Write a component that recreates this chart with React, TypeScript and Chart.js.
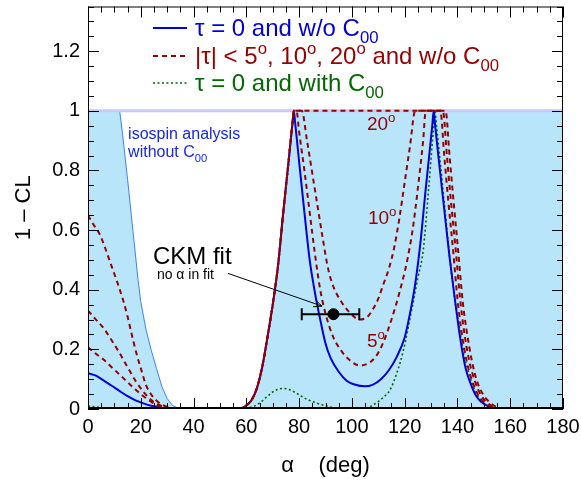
import { useEffect, useRef } from 'react';
import { Chart, registerables } from 'chart.js';

Chart.register(...registerables);

const FONT = '"Liberation Sans", Arial, Helvetica, sans-serif';

// ---------- data (alpha in degrees, 1 - CL) ----------
const envX = [0, 12, 13, 15, 17, 19, 20, 22, 24, 26, 28, 30, 32, 34, 36, 56, 58, 60, 62, 64, 66, 68, 70, 72, 74, 76, 77.5, 78, 180];
const envY = [1, 1, 0.93, 0.77, 0.6, 0.43, 0.36, 0.265, 0.196, 0.135, 0.075, 0.035, 0.012, 0.003, 0, 0, 0.003, 0.012, 0.03, 0.07, 0.14, 0.24, 0.35, 0.48, 0.66, 0.83, 0.96, 1, 1];

const blueX = [0, 3, 6, 9, 12, 15, 18, 21, 24, 27, 30, 33, 36, 45, 56, 58, 60, 62, 64, 66, 68, 70, 72, 74, 76, 77.5, 78, 78.5, 80, 82, 84, 86, 88, 90, 92, 95, 98, 101, 105, 108, 111, 114, 117, 120, 122, 124, 126, 128, 130, 130.5, 131, 131.5, 133, 135, 137, 139, 141, 143, 145, 147, 149, 151, 153, 155, 158, 170, 180];
const blueY = [0.12, 0.112, 0.095, 0.078, 0.06, 0.043, 0.029, 0.019, 0.011, 0.006, 0.002, 0.0005, 0, 0, 0, 0.003, 0.012, 0.03, 0.07, 0.14, 0.24, 0.35, 0.48, 0.66, 0.83, 0.96, 1, 0.96, 0.83, 0.66, 0.5, 0.39, 0.3, 0.22, 0.17, 0.125, 0.095, 0.082, 0.076, 0.082, 0.1, 0.13, 0.175, 0.24, 0.32, 0.42, 0.56, 0.74, 0.91, 0.955, 1, 0.955, 0.83, 0.67, 0.51, 0.37, 0.24, 0.14, 0.085, 0.045, 0.024, 0.012, 0.005, 0.0015, 0, 0, 0];

const red5X = [0, 3, 6, 9, 12, 15, 18, 21, 24, 27, 30, 33, 36, 45, 56, 58, 60, 62, 64, 66, 68, 70, 72, 74, 76, 77.5, 78, 79, 80, 82, 84, 86, 88, 90, 93, 96, 99, 103, 106, 109, 112, 115, 118, 121, 123, 125, 127, 128, 133.5, 135, 136.5, 138.4, 140, 141.5, 143.5, 145.5, 148, 150.5, 153, 155, 158, 170, 180];
const red5Y = [0.207, 0.185, 0.165, 0.14, 0.115, 0.09, 0.065, 0.043, 0.024, 0.01, 0.003, 0.0005, 0, 0, 0, 0.003, 0.012, 0.03, 0.07, 0.14, 0.24, 0.35, 0.48, 0.66, 0.83, 0.96, 1, 1, 0.93, 0.8, 0.66, 0.52, 0.4, 0.32, 0.24, 0.195, 0.165, 0.146, 0.152, 0.175, 0.225, 0.3, 0.39, 0.5, 0.6, 0.74, 0.9, 1, 1, 0.85, 0.7, 0.528, 0.37, 0.262, 0.16, 0.096, 0.045, 0.02, 0.005, 0.001, 0, 0, 0];

const red10X = [0, 3, 6, 9, 12, 15, 18, 21, 24, 27, 30, 33, 36, 45, 56, 58, 60, 62, 64, 66, 68, 70, 72, 74, 76, 77.5, 78, 81, 83, 85, 87, 89, 91, 93, 96, 99, 103, 106, 108, 110, 112, 114, 116, 118, 120, 122, 124, 134.5, 136, 137.5, 139.4, 141, 142.5, 144.5, 146.5, 149, 151.5, 154, 156, 159, 170, 180];
const red10Y = [0.33, 0.3, 0.27, 0.23, 0.187, 0.14, 0.095, 0.058, 0.03, 0.014, 0.005, 0.001, 0, 0, 0, 0.003, 0.012, 0.03, 0.07, 0.14, 0.24, 0.35, 0.48, 0.66, 0.83, 0.96, 1, 1, 0.9, 0.79, 0.68, 0.57, 0.47, 0.41, 0.36, 0.325, 0.3, 0.31, 0.335, 0.37, 0.42, 0.47, 0.54, 0.64, 0.76, 0.88, 1, 1, 0.85, 0.7, 0.528, 0.37, 0.262, 0.16, 0.096, 0.045, 0.02, 0.005, 0.001, 0, 0, 0];

const red20X = [0, 2, 4.5, 6.5, 8.3, 10.9, 13.4, 15, 16.5, 18.4, 20, 22, 24, 26, 28, 30, 32, 35, 45, 56, 58, 60, 62, 64, 66, 68, 70, 72, 74, 76, 77.5, 78, 135.5, 137, 138.5, 140.3, 142, 143.5, 145.5, 147.3, 150, 152.3, 154.9, 157, 160, 170, 180];
const red20Y = [0.65, 0.62, 0.585, 0.54, 0.495, 0.43, 0.362, 0.31, 0.253, 0.185, 0.137, 0.08, 0.048, 0.028, 0.015, 0.007, 0.002, 0, 0, 0, 0.003, 0.012, 0.03, 0.07, 0.14, 0.24, 0.35, 0.48, 0.66, 0.83, 0.96, 1, 1, 0.85, 0.7, 0.528, 0.36, 0.262, 0.16, 0.096, 0.045, 0.022, 0.006, 0.001, 0, 0, 0];

const greenX = [0, 3, 6, 9, 12, 15, 45, 56, 58, 60, 62.6, 65, 67.7, 70, 72, 74, 76, 78, 80.3, 82, 85, 88, 90.4, 93, 96, 100, 104, 106.9, 110, 112, 114.4, 117, 119.5, 122.6, 125, 127, 129, 131, 131.5, 132, 133, 135, 137.2, 139, 140.8, 142.5, 144, 146, 148, 150, 152, 154, 156, 170, 180];
const greenY = [0.01, 0.007, 0.004, 0.002, 0.0005, 0, 0, 0, 0.001, 0.003, 0.008, 0.02, 0.04, 0.057, 0.066, 0.069, 0.066, 0.058, 0.046, 0.037, 0.025, 0.016, 0.01, 0.004, 0.001, 0, 0.001, 0.008, 0.025, 0.04, 0.063, 0.12, 0.196, 0.33, 0.44, 0.53, 0.73, 0.95, 1, 0.955, 0.87, 0.69, 0.5, 0.37, 0.27, 0.18, 0.13, 0.075, 0.04, 0.02, 0.008, 0.002, 0, 0, 0];

const refX = [0, 180];
const refY = [1, 1];

// CKM fit point (no alpha in fit)
const ckmAlpha = [93];
const ckmCL = [0.318];
const ckmLow = [81];
const ckmHigh = [102.8];

const xTickStep = 20;
const yTickStep = 0.2;

// ---------- styling ----------
const BLUE = 'rgb(0,0,215)';
const RED = 'rgb(150,0,0)';
const GREEN = 'rgb(0,105,0)';
const FILL = 'rgb(185,229,251)';

const pts = (xs: number[], ys: number[]) => xs.map((x, i) => ({ x, y: ys[i] }));

type Part = { t: string; s?: 'sub' | 'sup' };

function drawRich(ctx: CanvasRenderingContext2D, parts: Part[], x: number, y: number, size: number, color: string) {
  ctx.save();
  ctx.fillStyle = color;
  ctx.textAlign = 'left';
  ctx.textBaseline = 'alphabetic';
  let cx = x;
  for (const p of parts) {
    const fs = p.s ? size * 0.7 : size;
    const dy = p.s === 'sub' ? size * 0.3 : p.s === 'sup' ? -size * 0.42 : 0;
    ctx.font = `${fs}px ${FONT}`;
    ctx.fillText(p.t, cx, y + dy);
    cx += ctx.measureText(p.t).width;
  }
  ctx.restore();
}

const legendRows: { parts: Part[]; color: string; dash: number[]; width: number }[] = [
  { parts: [{ t: 'τ = 0 and w/o C' }, { t: '00', s: 'sub' }], color: BLUE, dash: [], width: 2 },
  {
    parts: [
      { t: '|τ| < 5' }, { t: 'o', s: 'sup' }, { t: ', 10' }, { t: 'o', s: 'sup' }, { t: ', 20' }, { t: 'o', s: 'sup' },
      { t: ' and w/o C' }, { t: '00', s: 'sub' },
    ],
    color: RED, dash: [5, 4], width: 2,
  },
  { parts: [{ t: 'τ = 0 and with C' }, { t: '00', s: 'sub' }], color: GREEN, dash: [2, 2.5], width: 1.5 },
];

const overlayPlugin = {
  id: 'overlay',
  afterDatasetsDraw(chart: any) {
    const { ctx, chartArea: a, scales } = chart;
    const xs = scales.x;
    const ys = scales.y;
    ctx.save();

    // error bar on CKM point
    ctx.strokeStyle = '#000';
    ctx.lineWidth = 2;
    for (let i = 0; i < ckmAlpha.length; i++) {
      const py = ys.getPixelForValue(ckmCL[i]);
      const x1 = xs.getPixelForValue(ckmLow[i]);
      const x2 = xs.getPixelForValue(ckmHigh[i]);
      ctx.beginPath();
      ctx.moveTo(x1, py); ctx.lineTo(x2, py);
      ctx.moveTo(x1, py - 6); ctx.lineTo(x1, py + 6);
      ctx.moveTo(x2, py - 6); ctx.lineTo(x2, py + 6);
      ctx.stroke();
    }

    // arrow from label to point
    const ax1 = xs.getPixelForValue(53), ay1 = ys.getPixelForValue(0.455);
    const ax2 = xs.getPixelForValue(88.7), ay2 = ys.getPixelForValue(0.345);
    ctx.lineWidth = 1;
    ctx.beginPath(); ctx.moveTo(ax1, ay1); ctx.lineTo(ax2, ay2); ctx.stroke();
    const ang = Math.atan2(ay2 - ay1, ax2 - ax1);
    const hl = 9;
    ctx.beginPath();
    ctx.moveTo(ax2 - hl * Math.cos(ang - 0.4), ay2 - hl * Math.sin(ang - 0.4));
    ctx.lineTo(ax2, ay2);
    ctx.lineTo(ax2 - hl * Math.cos(ang + 0.4), ay2 - hl * Math.sin(ang + 0.4));
    ctx.stroke();

    // frame
    ctx.strokeStyle = '#000';
    ctx.lineWidth = 1;
    ctx.strokeRect(a.left + 0.5, a.top + 0.5, a.right - a.left - 1, a.bottom - a.top - 1);
    ctx.lineWidth = 2;
    ctx.beginPath(); ctx.moveTo(a.left, a.bottom - 1); ctx.lineTo(a.right, a.bottom - 1); ctx.stroke();

    // inward ticks
    ctx.lineWidth = 1;
    ctx.beginPath();
    for (let v = 0; v <= 180.001; v += 5) {
      const px = Math.round(xs.getPixelForValue(v)) + 0.5;
      const len = Math.abs(v % 20) < 0.01 ? 11 : 6;
      ctx.moveTo(px, a.bottom); ctx.lineTo(px, a.bottom - len);
      ctx.moveTo(px, a.top); ctx.lineTo(px, a.top + len);
    }
    for (let k = 0; k <= 27; k++) {
      const v = k * 0.05;
      const py = Math.round(ys.getPixelForValue(v)) + 0.5;
      const len = k % 4 === 0 ? 11 : 6;
      ctx.moveTo(a.left, py); ctx.lineTo(a.left + len, py);
      ctx.moveTo(a.right, py); ctx.lineTo(a.right - len, py);
    }
    ctx.stroke();
    ctx.restore();

    // in-plot labels
    drawRich(ctx, [{ t: 'isospin analysis' }], xs.getPixelForValue(15.2), ys.getPixelForValue(0.905), 16, 'rgb(20,40,230)');
    drawRich(ctx, [{ t: 'without C' }, { t: '00', s: 'sub' }], xs.getPixelForValue(15.2), ys.getPixelForValue(0.845), 16, 'rgb(20,40,230)');
    drawRich(ctx, [{ t: 'CKM fit' }], xs.getPixelForValue(24.6), ys.getPixelForValue(0.488), 24, '#000');
    drawRich(ctx, [{ t: 'no α in fit' }], xs.getPixelForValue(26.1), ys.getPixelForValue(0.437), 14, '#000');
    drawRich(ctx, [{ t: '20' }, { t: 'o', s: 'sup' }], xs.getPixelForValue(105.7), ys.getPixelForValue(0.935), 19, RED);
    drawRich(ctx, [{ t: '10' }, { t: 'o', s: 'sup' }], xs.getPixelForValue(106.1), ys.getPixelForValue(0.62), 19, RED);
    drawRich(ctx, [{ t: '5' }, { t: 'o', s: 'sup' }], xs.getPixelForValue(105.7), ys.getPixelForValue(0.207), 19, RED);

    // legend
    const baselines = [36, 64, 91];
    legendRows.forEach((r, i) => {
      const ly = baselines[i] - 8;
      ctx.save();
      ctx.strokeStyle = r.color;
      ctx.lineWidth = r.width;
      ctx.setLineDash(r.dash);
      ctx.beginPath(); ctx.moveTo(153, ly); ctx.lineTo(187, ly); ctx.stroke();
      ctx.restore();
      drawRich(ctx, r.parts, 195, baselines[i], 24, r.color);
    });
  },
};

export default function App() {
  const ref = useRef<HTMLCanvasElement | null>(null);
  useEffect(() => {
    const canvas = ref.current;
    if (!canvas) return;
    const line = (data: any, color: string, width: number, dash: number[]) => ({
      data, borderColor: color, borderWidth: width, borderDash: dash, pointRadius: 0,
      fill: false, cubicInterpolationMode: 'monotone', borderCapStyle: 'butt',
    });
    const chart = new Chart(canvas, {
      type: 'line',
      data: {
        datasets: [
          { type: 'scatter', data: pts(ckmAlpha, ckmCL), pointRadius: 5.5, backgroundColor: '#000', borderColor: '#000', showLine: false } as any,
          line(pts(red20X, red20Y), RED, 2, [5, 4]),
          line(pts(red10X, red10Y), RED, 2, [5, 4]),
          line(pts(red5X, red5Y), RED, 2, [5, 4]),
          line(pts(blueX, blueY), BLUE, 2, []),
          line(pts(greenX, greenY), GREEN, 1.6, [2, 2.5]),
          { data: pts(refX, refY), borderColor: 'rgb(200,200,250)', borderWidth: 3, pointRadius: 0, fill: false },
          { data: pts(envX, envY), borderColor: 'rgb(60,130,245)', borderWidth: 1, pointRadius: 0, fill: 'origin', backgroundColor: FILL, tension: 0 },
        ] as any,
      },
      options: {
        responsive: false,
        animation: false,
        maintainAspectRatio: false,
        layout: { padding: { left: 0, top: 3, right: 18, bottom: 0 } },
        plugins: { legend: { display: false }, tooltip: { enabled: false } },
        scales: {
          x: {
            type: 'linear', min: 0, max: 180,
            grid: { display: false, drawTicks: false },
            border: { display: false },
            ticks: { stepSize: xTickStep, autoSkip: false, maxRotation: 0, color: '#000', padding: 6, font: { size: 20, family: FONT } },
            title: { display: true, text: 'α    (deg)', color: '#000', font: { size: 22, family: FONT }, padding: { top: 0, bottom: 6 } },
            afterFit: (s: any) => { s.height = 76; s.paddingLeft = 0; s.paddingRight = 0; },
          },
          y: {
            type: 'linear', min: 0, max: 1.35,
            grid: { display: false, drawTicks: false },
            border: { display: false },
            ticks: {
              stepSize: yTickStep, includeBounds: false, autoSkip: false, color: '#000', padding: 8,
              font: { size: 20, family: FONT },
              callback: (v: any) => String(Math.round(Number(v) * 10) / 10),
            },
            title: { display: true, text: '1 – CL', color: '#000', font: { size: 22, family: FONT }, padding: { top: 11, bottom: 0 } },
            afterFit: (s: any) => { s.width = 88; s.paddingTop = 0; s.paddingBottom = 0; },
          },
        },
      } as any,
      plugins: [overlayPlugin],
    });
    return () => chart.destroy();
  }, []);
  return (
    <div style={{ position: 'absolute', left: 0, top: 0, width: 581, height: 485, background: '#fff' }}>
      <canvas ref={ref} width={581} height={485} style={{ display: 'block' }} />
    </div>
  );
}
